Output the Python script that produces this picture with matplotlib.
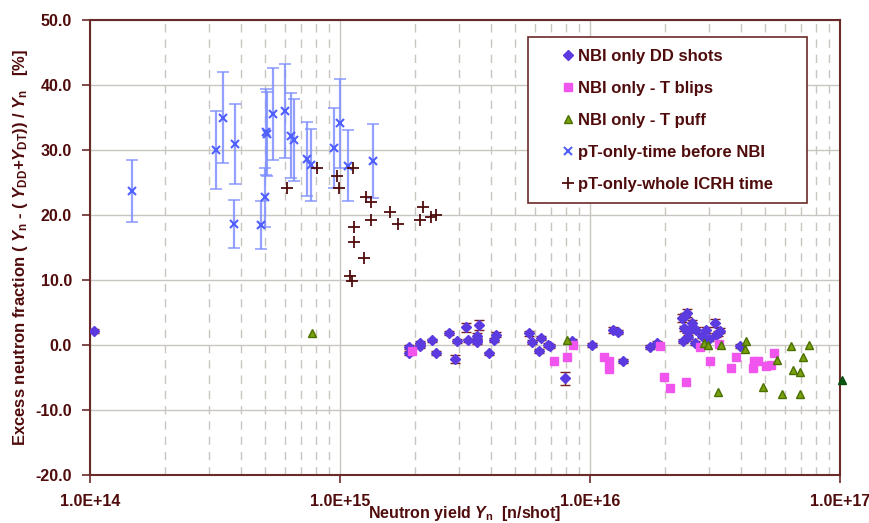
import numpy as np
import matplotlib
matplotlib.use("Agg")
import matplotlib.pyplot as plt
from matplotlib.ticker import FixedLocator, FuncFormatter, LogLocator

plt.rcParams["font.family"] = ["Liberation Sans", "DejaVu Sans"]
plt.rcParams["font.weight"] = "bold"
plt.rcParams["mathtext.fontset"] = "custom"
plt.rcParams["mathtext.rm"] = "Liberation Sans:bold"
plt.rcParams["mathtext.it"] = "Liberation Sans:bold:italic"
plt.rcParams["mathtext.bf"] = "Liberation Sans:bold"

# NBI only DD shots
dd_x = [1.04e14, 1.88e15, 1.88e15, 2.08e15, 2.08e15, 2.34e15, 2.41e15, 2.73e15,
        2.93e15, 2.89e15, 3.18e15, 3.26e15, 3.52e15, 3.52e15, 3.52e15, 3.59e15,
        4.14e15, 4.22e15, 3.93e15, 5.69e15, 5.88e15, 6.35e15, 6.27e15, 6.77e15,
        6.90e15, 7.92e15, 8.47e15, 1.02e16, 1.24e16, 1.29e16, 1.35e16, 1.74e16,
        1.85e16, 2.45e16, 2.40e16, 2.33e16, 2.55e16, 2.38e16, 2.45e16, 2.52e16,
        2.66e16, 2.47e16, 2.36e16, 2.63e16, 2.80e16, 2.91e16, 2.99e16, 3.16e16,
        3.26e16, 3.31e16, 3.20e16, 3.98e16]
dd_y = [2.2, -0.25, -1.2, 0.25, -0.1, 0.7, -1.2, 1.9,
        0.6, -2.2, 2.7, 0.7, 1.4, 0.8, 0.4, 3.1,
        0.8, 1.6, -1.3, 1.8, 0.5, 1.1, -0.9, 0.0,
        -0.2, -5.1, 0.6, 0.0, 2.3, 2.0, -2.5, -0.35,
        0.35, 4.9, 4.5, 4.1, 3.4, 2.6, 2.2, 2.3,
        2.3, 1.3, 0.6, 0.35, 1.4, 2.3, 0.9, 3.4,
        1.8, 2.2, 1.6, -0.15]
dd_err = [0.3, 0.3, 0.3, 0.3, 0.3, 0.3, 0.3, 0.3,
          0.3, 0.6, 0.7, 0.3, 0.4, 0.3, 0.3, 0.8,
          0.3, 0.4, 0.3, 0.4, 0.3, 0.3, 0.3, 0.3,
          0.3, 1.0, 0.3, 0.3, 0.4, 0.3, 0.3, 0.3,
          0.3, 0.6, 0.4, 0.6, 0.5, 0.4, 0.3, 0.3,
          0.4, 0.3, 0.3, 0.3, 0.3, 0.5, 0.3, 0.6,
          0.4, 0.4, 0.3, 0.3]

# NBI only - T blips
blip_x = [1.94e15, 7.18e15, 8.11e15, 8.58e15, 1.14e16, 1.19e16, 1.19e16, 1.91e16,
          1.98e16, 2.09e16, 2.42e16, 2.75e16, 3.03e16, 3.28e16, 3.67e16, 3.84e16,
          4.48e16, 4.53e16, 4.70e16, 5.06e16, 5.31e16, 5.45e16]
blip_y = [-0.9, -2.5, -1.9, 0.0, -1.8, -2.5, -3.75, -0.15,
          -4.9, -6.6, -5.7, -0.35, -2.4, 0.15, -3.5, -1.8,
          -3.5, -2.4, -2.4, -3.2, -3.1, -1.3]

# NBI only - T puff
puff_x = [7.7e14, 8.11e15, 2.86e16, 2.97e16, 3.33e16, 3.26e16, 4.21e16, 4.18e16,
          4.94e16, 5.58e16, 5.84e16, 6.35e16, 6.47e16, 6.94e16, 7.09e16, 6.92e16,
          7.52e16]
puff_y = [1.8, 0.8, 0.35, -0.05, 0.05, -7.2, 0.55, -0.55,
          -6.5, -2.3, -7.6, -0.15, -3.8, -4.1, -1.9, -7.5,
          -0.05]
extra_x = [1.02e17]
extra_y = [-5.4]

# pT-only-time before NBI
pre_x = [1.47e14, 3.19e14, 3.40e14, 3.79e14, 3.75e14, 4.82e14, 5.00e14, 5.05e14,
         5.10e14, 5.41e14, 6.04e14, 6.39e14, 6.57e14, 7.40e14, 7.63e14, 9.49e14,
         1.00e15, 1.08e15, 1.35e15]
pre_y = [23.7, 30.0, 35.0, 30.9, 18.6, 18.4, 22.7, 32.8,
         32.5, 35.5, 36.0, 32.2, 31.5, 28.6, 27.7, 30.3,
         34.1, 27.6, 28.3]
pre_err = [4.8, 6.0, 7.0, 6.2, 3.7, 3.7, 4.5, 6.6,
           6.5, 7.1, 7.2, 6.5, 6.3, 5.7, 5.5, 6.1,
           6.8, 5.5, 5.7]

# pT-only-whole ICRH time
icrh_x = [6.12e14, 8.11e14, 9.76e14, 9.94e14, 1.13e15, 1.27e15, 1.33e15, 1.14e15,
          1.14e15, 1.33e15, 1.59e15, 1.71e15, 1.25e15, 1.10e15, 1.12e15, 2.15e15,
          2.08e15, 2.32e15, 2.41e15]
icrh_y = [24.2, 27.3, 26.0, 24.2, 27.3, 22.7, 22.0, 18.2,
          15.9, 19.3, 20.4, 18.6, 13.4, 10.6, 9.9, 21.3,
          19.2, 19.7, 20.0]

maroon = "#500c0c"
axcol = "#6b2a2a"

fig = plt.figure(figsize=(8.7, 5.23), dpi=100)
ax = fig.add_axes([90 / 870, 48 / 523, 750 / 870, 455 / 523])
ax.set_xscale("log")
ax.set_xlim(1e14, 1e17)
ax.set_ylim(-20, 50)

# grid
ax.grid(True, which="major", axis="y", color="#c8c6c0", lw=1, zorder=0)
ax.grid(True, which="major", axis="x", color="#c8c6c0", lw=1, zorder=0)
ax.grid(True, which="minor", axis="x", color="#c8c6c0", lw=1,
        linestyle=(0, (6, 5)), zorder=0)
ax.set_axisbelow(True)

# error bars
ax.errorbar(pre_x, pre_y, yerr=pre_err, fmt="none", ecolor="#8090ff",
            elinewidth=1.6, capsize=4, capthick=1.2, alpha=0.85, zorder=2)
ax.errorbar(dd_x, dd_y, yerr=dd_err, fmt="none", ecolor="#7a2020",
            elinewidth=1.0, capsize=3.5, capthick=1.0, zorder=3)

# markers
ax.plot(dd_x, dd_y, "D", ms=5, color="#5b3ae0", mec="#5b3ae0",
        label="NBI only DD shots", zorder=4)
ax.plot(blip_x, blip_y, "s", ms=6, color="#f055ee", mec="#f055ee",
        label="NBI only - T blips", zorder=4)
ax.plot(puff_x, puff_y, "^", ms=6, color="#7aa010", mec="#4a7000",
        label="NBI only - T puff", zorder=4)
ax.plot(extra_x, extra_y, "^", ms=6, color="#0a5a10", mec="#0a4a10",
        zorder=4, clip_on=False)
ax.plot(pre_x, pre_y, "x", ms=6, mew=1.5, color="#5060ff",
        label="pT-only-time before NBI", zorder=4)
ax.plot(icrh_x, icrh_y, "+", ms=9, mew=1.3, color=maroon,
        label="pT-only-whole ICRH time", zorder=4)

# axes styling
for s in ax.spines.values():
    s.set_color(axcol)
    s.set_linewidth(1.5)
ax.xaxis.set_major_locator(FixedLocator([1e14, 1e15, 1e16, 1e17]))
ax.xaxis.set_minor_locator(LogLocator(base=10, subs=np.arange(2, 10)))
ax.xaxis.set_major_formatter(FuncFormatter(
    lambda v, p: "1.0E+%d" % int(round(np.log10(v)))))
ax.xaxis.set_minor_formatter(FuncFormatter(lambda v, p: ""))
ax.set_yticks(np.arange(-20, 51, 10))
ax.yaxis.set_major_formatter(FuncFormatter(lambda v, p: "%.1f" % v))
ax.tick_params(which="major", direction="out", length=6, width=1.2,
               color=axcol, labelcolor=maroon, labelsize=11.5)
ax.tick_params(axis="y", pad=7)
ax.tick_params(axis="x", pad=8)
ax.tick_params(which="minor", length=0)
for lab in ax.get_xticklabels() + ax.get_yticklabels():
    lab.set_fontweight("bold")

ax.set_xlabel(r"Neutron yield $Y_{\mathrm{n}}$  [n/shot]", fontsize=11.5,
              color=maroon, fontweight="bold", labelpad=-4)
ax.set_ylabel(r"Excess neutron fraction ( $Y_{\mathrm{n}}$ - ( $Y_{\mathrm{DD}}$+$Y_{\mathrm{DT}}$)) / $Y_{\mathrm{n}}$   [%]",
              fontsize=12, color=maroon, fontweight="bold", labelpad=4)

leg = ax.legend(loc="upper left", bbox_to_anchor=(0.584, 0.609, 0.372, 0.354),
                mode="expand", numpoints=1, fontsize=12, frameon=True,
                fancybox=False, edgecolor=axcol, framealpha=1,
                labelspacing=1.02, borderpad=0.7, handlelength=3.4,
                handletextpad=-1.1, borderaxespad=0)
leg.get_frame().set_linewidth(1.2)
for t in leg.get_texts():
    t.set_color(maroon)
    t.set_fontweight("bold")

fig.savefig("out.png", dpi=100)
